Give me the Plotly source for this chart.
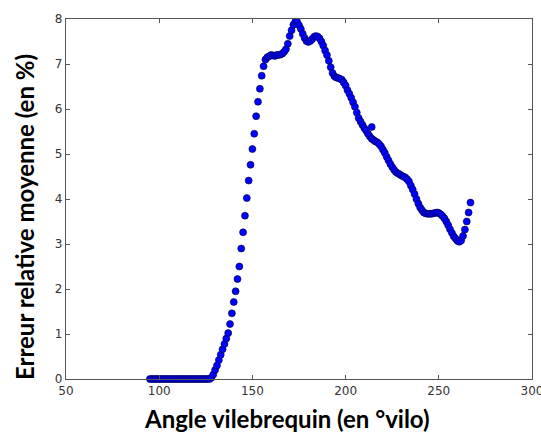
import plotly.graph_objects as go

# Crank angle (deg) and mean relative error (%)
angles = list(range(95, 268))
errors = (
    [0.0] * 33 +                                   # 95 .. 127
    [0.03, 0.10, 0.20, 0.30, 0.42, 0.54, 0.66, 0.78, 0.90, 1.02,   # 128 .. 137
     1.22, 1.46, 1.71, 1.95, 2.22, 2.50, 2.90, 3.26, 3.63, 4.02,   # 138 .. 147
     4.41, 4.76, 5.11, 5.45, 5.84, 6.16, 6.45, 6.74, 6.95, 7.10,   # 148 .. 157
     7.15, 7.17, 7.20, 7.19, 7.18, 7.20, 7.20, 7.21, 7.23, 7.27,   # 158 .. 167
     7.33, 7.45, 7.62, 7.75, 7.87, 7.94, 7.94, 7.86, 7.78, 7.67,   # 168 .. 177
     7.58, 7.51, 7.49, 7.51, 7.55, 7.60, 7.62, 7.61, 7.57, 7.50,   # 178 .. 187
     7.41, 7.30, 7.20, 7.07, 6.93, 6.80, 6.73, 6.70, 6.69, 6.67,   # 188 .. 197
     6.65, 6.59, 6.52, 6.42, 6.34, 6.25, 6.15, 6.05, 5.92, 5.80,   # 198 .. 207
     5.72, 5.65, 5.58, 5.52, 5.45, 5.39, 5.34, 5.31, 5.28, 5.26,   # 208 .. 217
     5.22, 5.17, 5.10, 5.03, 4.94, 4.86, 4.78, 4.71, 4.65, 4.60,   # 218 .. 227
     4.57, 4.55, 4.52, 4.50, 4.48, 4.44, 4.39, 4.30, 4.21, 4.11,   # 228 .. 237
     4.00, 3.90, 3.81, 3.75, 3.70, 3.68, 3.67, 3.67, 3.67, 3.68,   # 238 .. 247
     3.69, 3.70, 3.69, 3.66, 3.62, 3.57, 3.50, 3.42, 3.33, 3.25,   # 248 .. 257
     3.17, 3.12, 3.07, 3.05, 3.08, 3.18, 3.32, 3.50, 3.70, 3.92]   # 258 .. 267
)

# isolated sample near 214 deg
extra_angles = [214]
extra_errors = [5.60]

x_ticks = [50, 100, 150, 200, 250, 300]
y_ticks = [0, 1, 2, 3, 4, 5, 6, 7, 8]

fig = go.Figure()
fig.add_trace(go.Scatter(
    x=angles + extra_angles,
    y=errors + extra_errors,
    mode="markers",
    marker=dict(size=7, color="#0000ff", line=dict(color="#00003a", width=0.6)),
    cliponaxis=False,
    showlegend=False,
))

axis_common = dict(
    showgrid=False,
    zeroline=False,
    showline=True,
    linecolor="#555555",
    linewidth=1.3,
    mirror="ticks",
    ticks="inside",
    ticklen=4,
    tickwidth=1,
    tickcolor="#555555",
    automargin=False,
    ticklabeloverflow="allow",
    tickfont=dict(family="DejaVu Sans", size=12, color="#333333"),
)

fig.update_xaxes(range=[50, 300], tickvals=x_ticks, **axis_common)
fig.update_yaxes(range=[0, 8], tickvals=y_ticks, **axis_common)

fig.add_annotation(
    text="Angle vilebrequin (en °vilo)",
    xref="paper", yref="paper", x=0.475, y=-0.11,
    xanchor="center", yanchor="middle", showarrow=False,
    font=dict(family="Lato", size=24, color="#000000", weight="bold"),
)
fig.add_annotation(
    text="Erreur relative moyenne (en %)",
    xref="paper", yref="paper", x=-0.09, y=0.45,
    xanchor="center", yanchor="middle", showarrow=False, textangle=-90,
    font=dict(family="Lato", size=24, color="#000000", weight="bold"),
)

fig.update_layout(
    width=541,
    height=433,
    margin=dict(l=66, r=9, t=19, b=54, autoexpand=False),
    paper_bgcolor="white",
    plot_bgcolor="white",
)

fig.write_html("out.html")
